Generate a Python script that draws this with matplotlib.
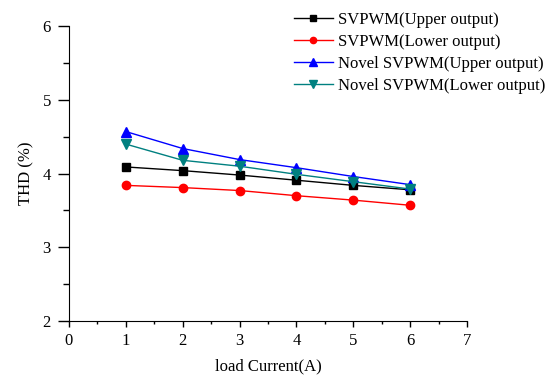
import matplotlib
matplotlib.use('Agg')
import matplotlib.pyplot as plt
from matplotlib.ticker import MultipleLocator

plt.rcParams['font.family'] = ['Liberation Serif', 'DejaVu Serif']
plt.rcParams['mathtext.fontset'] = 'stix'

# data
current = [1, 2, 3, 4, 5, 6]
svpwm_upper = [4.09, 4.04, 3.98, 3.91, 3.84, 3.78]
svpwm_lower = [3.84, 3.81, 3.77, 3.70, 3.64, 3.57]
novel_upper = [4.57, 4.34, 4.19, 4.08, 3.96, 3.85]
novel_lower = [4.40, 4.18, 4.10, 3.99, 3.89, 3.79]

fig = plt.figure(figsize=(5.56, 3.79), dpi=100, facecolor='white')
ax = fig.add_axes([0.124, 0.153, 0.716, 0.778])

ax.plot(current, svpwm_upper, color='black', marker='s', ms=5.5, lw=1,
        label='SVPWM(Upper output)')
ax.plot(current, svpwm_lower, color='red', marker='o', ms=6, lw=1,
        label='SVPWM(Lower output)')
ax.plot(current, novel_upper, color='blue', marker='^', ms=7, lw=1,
        label='Novel SVPWM(Upper output)')
ax.plot(current, novel_lower, color='#008080', marker='v', ms=7, lw=1,
        label='Novel SVPWM(Lower output)')

ax.set_xlim(0, 7)
ax.set_ylim(2, 6)
ax.xaxis.set_major_locator(MultipleLocator(1))
ax.xaxis.set_minor_locator(MultipleLocator(0.5))
ax.yaxis.set_major_locator(MultipleLocator(1))
ax.yaxis.set_minor_locator(MultipleLocator(0.5))
ax.spines['top'].set_visible(False)
ax.spines['right'].set_visible(False)
ax.tick_params(which='both', direction='out', width=1, labelsize=12)
ax.tick_params(axis='y', which='major', length=8, pad=5)
ax.tick_params(axis='y', which='minor', length=4.3)
ax.tick_params(axis='x', which='major', length=4.3, pad=4)
ax.tick_params(axis='x', which='minor', length=2.2)

ax.set_xlabel('load Current(A)', fontsize=12, labelpad=7)
ax.set_ylabel('THD (%)', fontsize=12, labelpad=6)

fig.legend(loc='upper right', bbox_to_anchor=(0.995, 0.99), frameon=False,
           fontsize=12, handlelength=2.3, labelspacing=0.35, markerscale=0.75,
           handletextpad=0.3, borderaxespad=0.1)

fig.savefig('out.png', dpi=100)
